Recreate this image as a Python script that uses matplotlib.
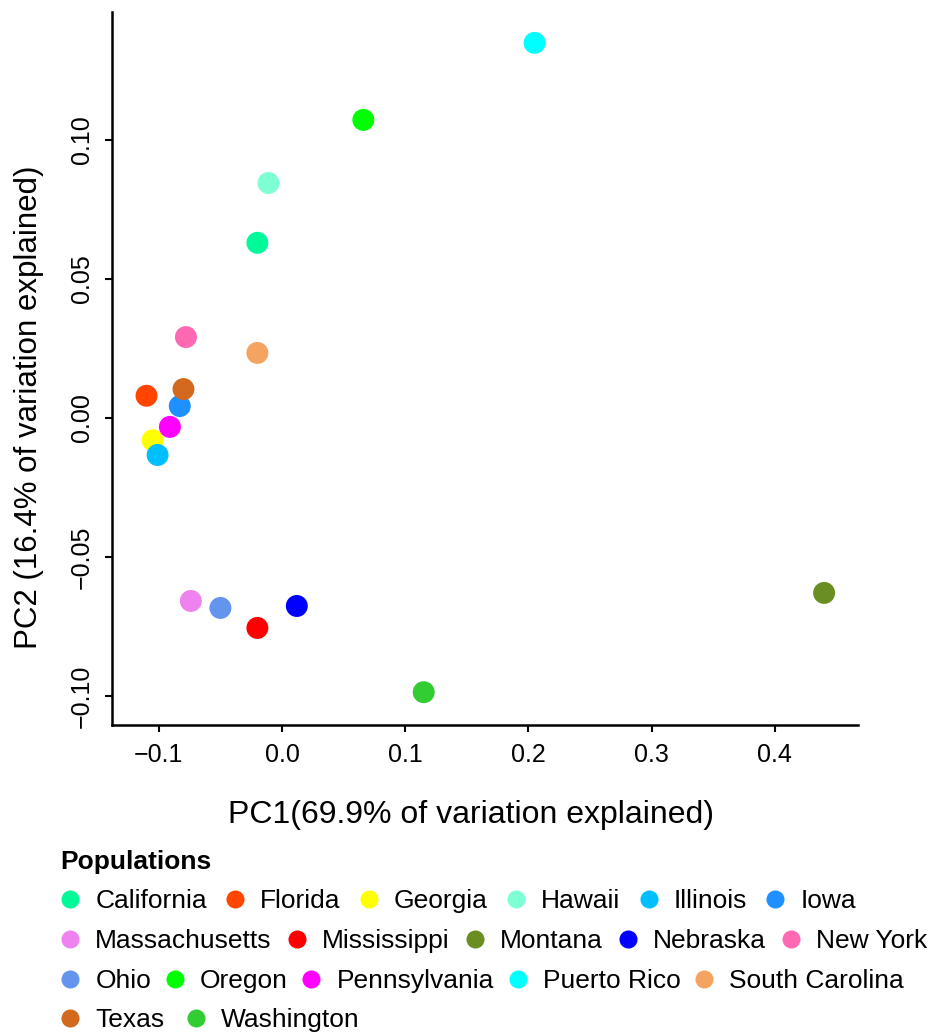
import matplotlib
matplotlib.use('Agg')
import matplotlib.pyplot as plt
from matplotlib.lines import Line2D

plt.rcParams['font.family'] = ['Liberation Sans', 'DejaVu Sans']

populations = ['California', 'Florida', 'Georgia', 'Hawaii', 'Illinois', 'Iowa',
               'Massachusetts', 'Mississippi', 'Montana', 'Nebraska', 'New York',
               'Ohio', 'Oregon', 'Pennsylvania', 'Puerto Rico', 'South Carolina',
               'Texas', 'Washington']
pc1 = [-0.020, -0.110, -0.105, -0.011, -0.101, -0.083,
       -0.074, -0.020, 0.440, 0.012, -0.078,
       -0.050, 0.066, -0.091, 0.205, -0.020,
       -0.080, 0.115]
pc2 = [0.063, 0.008, -0.008, 0.0845, -0.0133, 0.0043,
       -0.0658, -0.0755, -0.0629, -0.0676, 0.0291,
       -0.0683, 0.1072, -0.0032, 0.1349, 0.0234,
       0.0104, -0.0986]
colors = ['#00FA9A', '#FF4500', '#FFFF00', '#7FFFD4', '#00BFFF', '#1E90FF',
          '#EE82EE', '#FF0000', '#6B8E23', '#0000FF', '#FF69B4',
          '#6495ED', '#00FF00', '#FF00FF', '#00FFFF', '#F4A460',
          '#D2691E', '#32CD32']
legend_rows = [6, 5, 5, 2]

fig = plt.figure(figsize=(9.35, 10.34), dpi=100)
ax = fig.add_axes([112/935, 1 - 725/1034, (858 - 112)/935, (725 - 12)/1034])

ax.scatter(pc1, pc2, c=colors, s=250, edgecolors='none', zorder=3)

ax.set_xlim(-0.138, 0.4675)
ax.set_ylim(-0.1104, 0.146)
ax.set_xticks([-0.1, 0.0, 0.1, 0.2, 0.3, 0.4])
ax.set_xticklabels(['\u22120.1', '0.0', '0.1', '0.2', '0.3', '0.4'])
ax.set_yticks([-0.10, -0.05, 0.0, 0.05, 0.10])
ax.set_yticklabels(['\u22120.10', '\u22120.05', '0.00', '0.05', '0.10'])
for s in ['top', 'right']:
    ax.spines[s].set_visible(False)
for s in ['left', 'bottom']:
    ax.spines[s].set_linewidth(1.8)
ax.tick_params(direction='out', length=5, width=1.5, labelsize=18)
ax.tick_params(axis='x', pad=8)
ax.tick_params(axis='y', pad=8, labelrotation=90)
for lab in ax.get_yticklabels():
    lab.set_va('center')

ax.set_xlabel('PC1(69.9% of variation explained)', fontsize=23)
ax.set_ylabel('PC2 (16.4% of variation explained)', fontsize=22.5)
ax.xaxis.set_label_coords(0.481, -0.126)
ax.xaxis.label.set_va('center')
ax.yaxis.set_label_coords(-0.111, 0.446)
ax.yaxis.label.set_va('center')

# legend, one row at a time so the entries are not column aligned
fig.text(60/935, 1 - 862/1034, 'Populations', fontsize=19, fontweight='bold',
         ha='left', va='center')
row_y = [901, 941, 981, 1020]
row_gap = [0.57, 0.45, 0.40, 0.68]
start = 0
for n, y, gap in zip(legend_rows, row_y, row_gap):
    handles = [Line2D([], [], marker='o', linestyle='', color=colors[i],
                      markersize=13, markeredgewidth=0)
               for i in range(start, start + n)]
    labels = populations[start:start + n]
    fig.legend(handles, labels, loc='center left', ncol=n, frameon=False,
               bbox_to_anchor=(57/935, 1 - y/1034), fontsize=19,
               handlelength=1.0, handletextpad=0.45, columnspacing=gap,
               borderpad=0, borderaxespad=0)
    start += n

fig.savefig('out.png', dpi=100)
